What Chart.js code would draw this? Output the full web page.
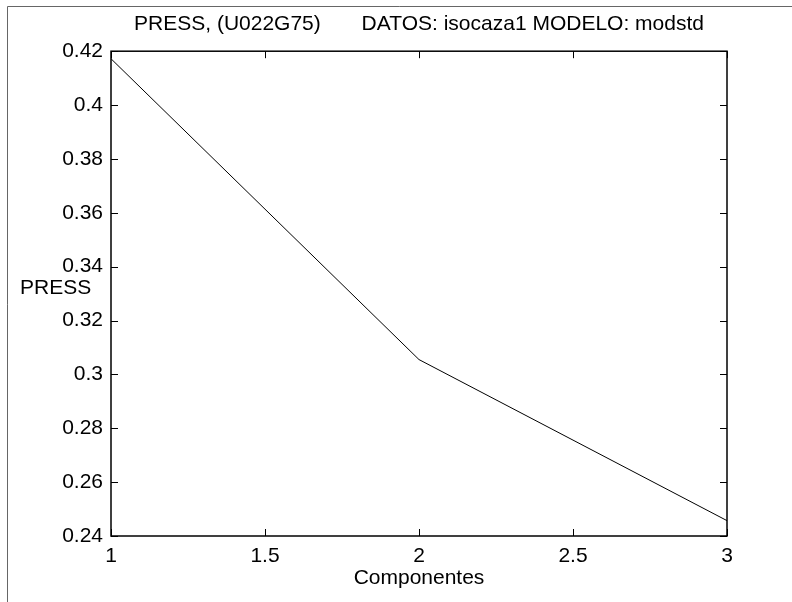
<!DOCTYPE html>
<html>
<head>
<meta charset="utf-8">
<script src="https://cdn.jsdelivr.net/npm/chart.js@4"></script>
<style>
  html, body { margin: 0; padding: 0; background: #fff; }
  canvas { display: block; }
</style>
</head>
<body>
<canvas id="myChart" width="792" height="602"></canvas>
<script>
/* Dati del grafico */
const componentes = [1, 2, 3];
const press = [0.4172, 0.3055, 0.2457];
const xTicks = [1, 1.5, 2, 2.5, 3];
const yTicks = [0.24, 0.26, 0.28, 0.3, 0.32, 0.34, 0.36, 0.38, 0.4, 0.42];

const FONT = "Arial, 'Liberation Sans', sans-serif";
Chart.defaults.font.family = FONT;
Chart.defaults.font.size = 21;
Chart.defaults.color = '#000';

// cornice della figura, scatola degli assi e tacche verso l'interno (stile MATLAB)
const matlabBox = {
  id: 'matlabBox',
  beforeDraw(chart) {
    const c = chart.ctx;
    c.save();
    c.strokeStyle = '#666';
    c.lineWidth = 1;
    c.beginPath();
    c.moveTo(7.5, 602);
    c.lineTo(7.5, 6.5);
    c.lineTo(792, 6.5);
    c.stroke();
    c.restore();
  },
  afterDraw(chart) {
    const c = chart.ctx;
    const a = chart.chartArea;
    const x = chart.scales.x, y = chart.scales.y;
    c.save();
    c.strokeStyle = '#000';
    c.lineWidth = 1.5;
    c.strokeRect(a.left, a.top, a.right - a.left, a.bottom - a.top);
    c.lineWidth = 1;
    c.beginPath();
    yTicks.forEach(v => {
      const py = Math.round(y.getPixelForValue(v)) + 0.5;
      c.moveTo(a.left, py); c.lineTo(a.left + 7, py);
      c.moveTo(a.right, py); c.lineTo(a.right - 7, py);
    });
    xTicks.forEach(v => {
      const px = Math.round(x.getPixelForValue(v)) + 0.5;
      c.moveTo(px, a.bottom); c.lineTo(px, a.bottom - 7);
      c.moveTo(px, a.top); c.lineTo(px, a.top + 7);
    });
    c.stroke();
    // etichetta asse Y orizzontale
    c.fillStyle = '#000';
    c.font = '21px ' + FONT;
    c.textAlign = 'left';
    c.textBaseline = 'middle';
    c.fillText('PRESS', 20, (a.top + a.bottom) / 2 - 5);
    c.restore();
  }
};

new Chart(document.getElementById('myChart'), {
  type: 'line',
  data: {
    datasets: [{
      label: 'PRESS',
      data: componentes.map((v, i) => ({ x: v, y: press[i] })),
      borderColor: '#000',
      borderWidth: 1,
      pointRadius: 0,
      fill: false,
      tension: 0
    }]
  },
  options: {
    responsive: false,
    devicePixelRatio: 1,
    animation: false,
    layout: { padding: { left: 0, top: 0, right: 65, bottom: 0 } },
    plugins: {
      legend: { display: false },
      tooltip: { enabled: false },
      title: {
        display: true,
        fullSize: false,
        text: 'PRESS, (U022G75)       DATOS: isocaza1 MODELO: modstd',
        font: { size: 21, weight: 'normal' },
        color: '#000',
        padding: { top: 12, bottom: 14 }
      }
    },
    scales: {
      x: {
        type: 'linear',
        min: 1,
        max: 3,
        grid: { display: false, drawTicks: false },
        border: { display: false },
        afterBuildTicks: s => { s.ticks = xTicks.map(v => ({ value: v })); },
        afterFit: s => { s.height = 66; },
        ticks: {
          padding: 8,
          maxRotation: 0,
          callback: v => String(v)
        },
        title: {
          display: true,
          text: 'Componentes',
          font: { size: 21 },
          padding: { top: 0, bottom: 11 }
        }
      },
      y: {
        min: 0.24,
        max: 0.42,
        grid: { display: false, drawTicks: false },
        border: { display: false },
        afterBuildTicks: s => { s.ticks = yTicks.map(v => ({ value: v })); },
        afterFit: s => { s.width = 111; },
        ticks: {
          padding: 8,
          callback: v => String(Number(v.toFixed(2)))
        }
      }
    }
  },
  plugins: [matlabBox]
});
</script>
</body>
</html>
